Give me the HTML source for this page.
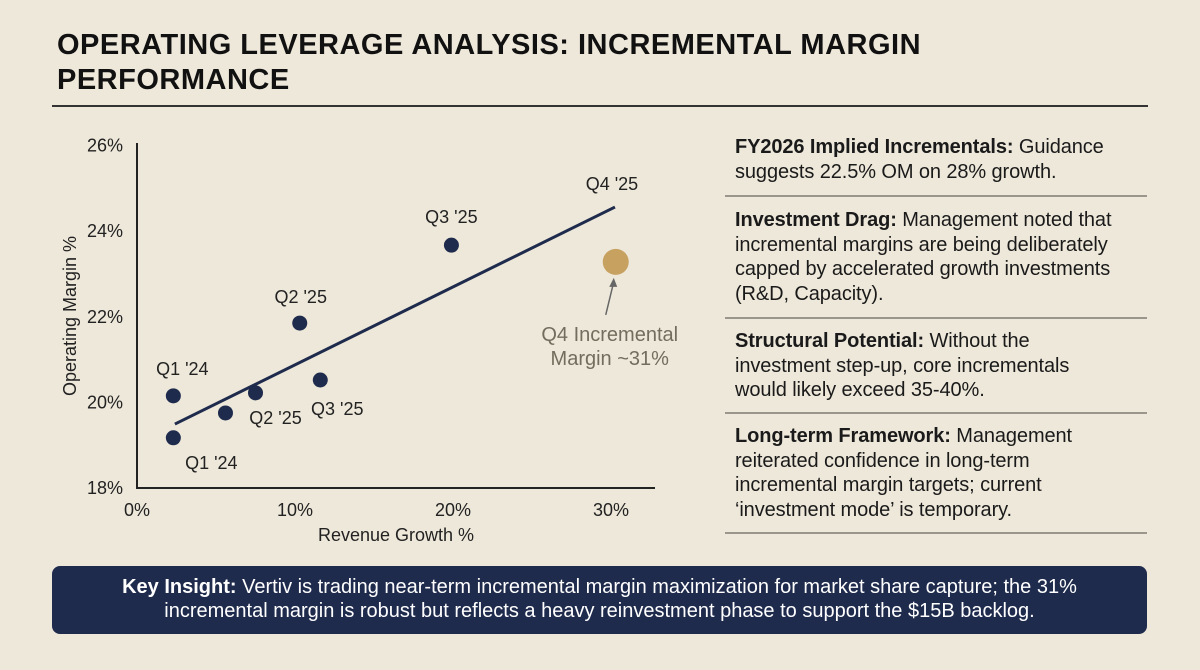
<!DOCTYPE html>
<html><head><meta charset="utf-8">
<style>
body{margin:0;width:1200px;height:670px;background:#eee8da;font-family:"Liberation Sans",sans-serif;position:relative;overflow:hidden;color:#1a1a1a}
#title{position:absolute;left:57px;top:28px;font-size:29px;font-weight:bold;line-height:35px;letter-spacing:0.5px;color:#111}
#rule{position:absolute;left:52px;top:105px;width:1096px;height:2px;background:#333}
.item{position:absolute;left:735px;width:440px;font-size:20px;line-height:24.5px;color:#1a1a1a;letter-spacing:-0.1px;white-space:nowrap}
.sep{position:absolute;left:725px;width:422px;height:1.5px;background:#9a968c}
#insight{position:absolute;left:52px;top:566px;width:1095px;height:68px;background:#1f2b4d;border-radius:8px;color:#fff;font-size:20px;line-height:24px;text-align:center;box-sizing:border-box;padding-top:9px;white-space:nowrap}
</style></head><body>
<div id="title">OPERATING LEVERAGE ANALYSIS: INCREMENTAL MARGIN<br>PERFORMANCE</div>
<div id="rule"></div>

<svg id="chart" width="720" height="560" style="position:absolute;left:0;top:0" font-family="Liberation Sans, sans-serif"></svg>

<div class="item" style="top:135px"><b>FY2026 Implied Incrementals:</b> Guidance<br>suggests 22.5% OM on 28% growth.</div>
<div class="sep" style="top:195px"></div>
<div class="item" style="top:208px"><b>Investment Drag:</b> Management noted that<br>incremental margins are being deliberately<br>capped by accelerated growth investments<br>(R&amp;D, Capacity).</div>
<div class="sep" style="top:317px"></div>
<div class="item" style="top:329px"><b>Structural Potential:</b> Without the<br>investment step-up, core incrementals<br>would likely exceed 35-40%.</div>
<div class="sep" style="top:412px"></div>
<div class="item" style="top:424px"><b>Long-term Framework:</b> Management<br>reiterated confidence in long-term<br>incremental margin targets; current<br>‘investment mode’ is temporary.</div>
<div class="sep" style="top:532px"></div>

<div id="insight"><b>Key Insight:</b> Vertiv is trading near-term incremental margin maximization for market share capture; the 31%<br>incremental margin is robust but reflects a heavy reinvestment phase to support the $15B backlog.</div>

<script>
const xTicks=[0,10,20,30];
const yTicks=[18,20,22,24,26];
const pointLabels=["Q1 '24","Q1 '24","","Q2 '25","Q2 '25","Q3 '25","Q3 '25"];
const growthValues=[2.3,2.3,5.6,7.5,10.3,11.6,19.9];
const marginValues=[20.13,19.15,19.73,20.2,21.83,20.5,23.65];
const labelDx=[9,38,0,20,1,17,0];
const labelDy=[-21,31,0,31,-20,35,-22];
const trendX=[2.4,30.25];
const trendY=[19.47,24.54];
const q4Growth=[30.3];
const q4Margin=[23.26];

const NS="http://www.w3.org/2000/svg";
const svg=document.getElementById('chart');
const X=v=>137+15.8*v;
const Y=v=>487-(v-18)*42.8;
function mk(t,a,txt){const e=document.createElementNS(NS,t);for(const k in a)e.setAttribute(k,a[k]);if(txt!==undefined)e.textContent=txt;svg.appendChild(e);return e;}

let e;
e=mk('line',{x1:137,y1:143,x2:137,y2:488,stroke:'#222','stroke-width':2});


e=mk('line',{x1:136,y1:488,x2:655,y2:488,stroke:'#222','stroke-width':2});


xTicks.forEach(t=>{e=mk('text',{x:X(t),y:516,'font-size':18,'text-anchor':'middle',fill:'#222'},t+'%');

});
yTicks.forEach(t=>{e=mk('text',{x:123,y:Y(t)+7,'font-size':18,'text-anchor':'end',fill:'#222'},t+'%');

});
e=mk('text',{x:396,y:541,'font-size':18,'text-anchor':'middle',fill:'#222'},'Revenue Growth %');


e=mk('text',{x:76,y:316,'font-size':18,'text-anchor':'middle',fill:'#222',transform:'rotate(-90 76 316)'},'Operating Margin %');



e=mk('line',{x1:X(trendX[0]),y1:Y(trendY[0]),x2:X(trendX[1]),y2:Y(trendY[1]),stroke:'#1f2b4d','stroke-width':3});



growthValues.forEach((g,i)=>{
  const cx=X(g),cy=Y(marginValues[i]);
  e=mk('circle',{cx:cx,cy:cy,r:7.5,fill:'#1f2b4d'});
  
  
  if(pointLabels[i]){
    e=mk('text',{x:cx+labelDx[i],y:cy+labelDy[i],'font-size':18,'text-anchor':'middle',fill:'#222'},pointLabels[i]);
    
    
  }
});
e=mk('text',{x:X(trendX[1])-3,y:Y(trendY[1])-17,'font-size':18,'text-anchor':'middle',fill:'#222'},"Q4 '25");



const gx=X(q4Growth[0]),gy=Y(q4Margin[0]);
e=mk('circle',{cx:gx,cy:gy,r:13,fill:'#c7a160'});


e=mk('line',{x1:gx-10,y1:gy+53,x2:gx-2,y2:gy+20,stroke:'#666','stroke-width':1.5});


e=mk('path',{d:`M${gx-2} ${gy+16} L${gx-6.5} ${gy+25} L${gx+1.5} ${gy+25} Z`,fill:'#666'});


e=mk('text',{x:gx-6,y:gy+79,'font-size':20,'text-anchor':'middle',fill:'#736d5e'},'Q4 Incremental');


e=mk('text',{x:gx-6,y:gy+103,'font-size':20,'text-anchor':'middle',fill:'#736d5e'},'Margin ~31%');


</script>
</body></html>
